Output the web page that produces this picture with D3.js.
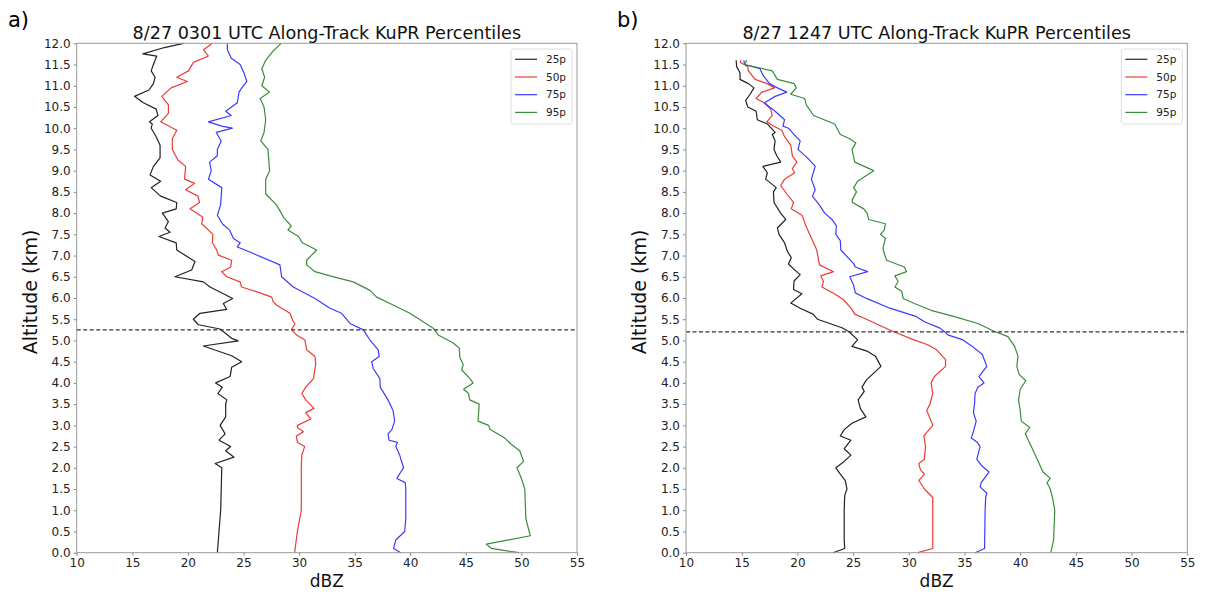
<!DOCTYPE html>
<html>
<head>
<meta charset="utf-8">
<script src="https://cdn.jsdelivr.net/npm/d3@7/dist/d3.min.js"></script>
<style>
  body { margin: 0; background: #fff; }
  text { font-family: "DejaVu Sans", sans-serif; }
</style>
</head>
<body>
<div id="container"></div>
<script>
/* DATA: [altitude km, dBZ] */
const a25 = [[0.0,22.65],[0.5,22.8],[1.0,22.95],[1.5,23.0],[2.0,23.05],[2.1,22.45],[2.25,24.15],[2.4,23.4],[2.5,23.85],[2.65,22.8],[2.8,23.35],[3.0,22.9],[3.2,23.4],[3.5,23.4],[3.6,23.5],[3.75,22.7],[3.9,23.1],[4.0,22.5],[4.15,23.8],[4.37,23.94],[4.5,24.84],[4.64,23.94],[4.87,21.39],[4.99,24.53],[5.05,23.94],[5.27,22.89],[5.37,20.94],[5.5,20.49],[5.64,21.09],[5.73,23.49],[5.87,23.19],[5.99,24.03],[6.26,21.99],[6.38,21.39],[6.5,18.84],[6.66,20.34],[6.86,20.64],[7.13,19.0],[7.3,18.95],[7.45,17.4],[7.55,18.4],[7.65,17.95],[7.8,18.25],[8.0,17.7],[8.1,18.95],[8.25,19.0],[8.4,17.55],[8.6,16.7],[8.75,17.55],[8.9,16.6],[9.1,16.9],[9.3,17.5],[9.6,17.5],[9.8,17.15],[10.0,16.7],[10.1,16.8],[10.15,16.55],[10.3,17.3],[10.45,17.15],[10.6,16.0],[10.75,15.2],[10.9,16.5],[11.05,16.9],[11.2,17.05],[11.35,16.7],[11.5,16.9],[11.7,17.2],[11.75,15.95],[11.9,17.9],[12.0,19.6]]
const a50 = [[0.0,29.6],[0.3,29.75],[0.5,29.85],[1.0,30.2],[1.5,30.2],[2.0,30.2],[2.3,30.25],[2.5,30.5],[2.6,29.85],[2.75,29.75],[2.85,30.4],[2.95,29.85],[3.0,29.85],[3.15,31.05],[3.3,30.6],[3.4,31.35],[3.6,30.6],[3.75,30.25],[3.9,30.6],[4.1,31.3],[4.46,31.5],[4.62,31.43],[4.78,30.68],[5.01,30.53],[5.13,29.78],[5.25,29.33],[5.4,29.63],[5.48,29.42],[5.64,29.18],[5.83,27.99],[5.91,27.68],[6.02,27.54],[6.12,26.49],[6.26,24.84],[6.38,24.69],[6.5,23.49],[6.62,23.04],[6.73,23.85],[6.89,23.94],[7.01,22.74],[7.13,22.59],[7.3,22.2],[7.5,22.25],[7.6,21.85],[7.75,21.25],[7.9,21.35],[8.1,20.2],[8.25,21.05],[8.4,20.9],[8.55,19.8],[8.7,20.6],[8.8,19.7],[9.1,19.8],[9.25,19.1],[9.5,18.6],[9.75,18.6],[9.95,19.0],[10.15,17.55],[10.35,18.25],[10.55,18.25],[10.75,17.65],[10.95,18.5],[11.1,19.95],[11.2,19.0],[11.35,20.05],[11.55,20.5],[11.7,21.85],[11.85,21.4],[12.0,22.2]]
const a75 = [[0.0,39.15],[0.1,38.5],[0.3,38.7],[0.5,39.5],[0.8,39.6],[1.5,39.6],[1.65,39.55],[1.75,38.8],[1.9,39.15],[2.0,39.4],[2.3,39.05],[2.5,38.7],[2.6,38.85],[2.65,38.1],[2.8,38.0],[2.9,38.35],[3.1,38.6],[3.35,38.45],[3.6,38.0],[3.9,37.3],[4.1,37.27],[4.34,36.67],[4.5,36.53],[4.62,37.21],[4.78,37.12],[5.01,36.38],[5.25,35.78],[5.4,34.58],[5.64,33.83],[5.76,32.78],[5.99,31.43],[6.26,29.48],[6.5,28.43],[6.78,28.28],[7.13,25.14],[7.2,24.45],[7.3,24.7],[7.4,24.1],[7.6,23.75],[7.75,23.1],[7.95,22.65],[8.2,22.95],[8.6,23.05],[8.8,21.85],[9.0,22.1],[9.2,21.95],[9.35,22.65],[9.5,22.65],[9.7,23.0],[9.9,22.55],[10.0,24.0],[10.05,23.05],[10.15,21.85],[10.3,23.9],[10.4,23.4],[10.6,24.45],[10.85,24.6],[10.95,24.85],[11.1,25.3],[11.3,25.05],[11.5,24.7],[11.65,23.9],[11.85,23.55],[12.0,23.55]]
const a95 = [[0.0,49.8],[0.1,47.3],[0.2,46.85],[0.4,50.8],[0.5,50.7],[0.8,50.4],[1.5,50.3],[1.75,50.0],[2.0,49.6],[2.15,50.2],[2.4,49.85],[2.55,49.1],[2.7,48.5],[2.9,47.2],[3.0,47.05],[3.1,46.1],[3.5,46.2],[3.6,45.35],[3.75,45.25],[3.85,44.8],[4.0,45.65],[4.1,45.37],[4.31,44.62],[4.43,44.77],[4.59,44.47],[4.82,44.41],[4.94,43.87],[5.13,42.52],[5.29,42.07],[5.64,39.97],[5.87,38.18],[6.02,36.98],[6.18,36.38],[6.38,34.87],[6.52,32.78],[6.62,31.43],[6.78,30.68],[6.89,30.68],[7.01,31.13],[7.13,31.58],[7.3,30.3],[7.45,29.95],[7.6,29.0],[7.7,29.3],[7.9,28.6],[8.0,28.4],[8.2,27.95],[8.45,27.0],[8.8,27.0],[9.0,27.35],[9.5,27.2],[9.7,26.55],[9.9,26.85],[10.2,27.0],[10.5,26.85],[10.7,26.5],[10.85,27.35],[11.0,26.65],[11.2,26.9],[11.4,26.65],[11.6,27.0],[11.8,27.6],[11.95,28.2],[12.0,28.4]]

const b25 = [[0.0,23.2],[0.1,24.25],[0.3,24.2],[1.0,24.2],[1.35,24.25],[1.5,24.45],[1.7,24.3],[1.85,23.85],[2.0,23.45],[2.15,24.2],[2.3,24.8],[2.45,24.2],[2.5,24.35],[2.65,24.8],[2.75,23.85],[2.9,24.2],[3.05,24.9],[3.2,26.15],[3.4,25.65],[3.6,25.45],[3.8,26.0],[3.9,25.8],[4.07,26.2],[4.39,27.5],[4.63,27.0],[4.75,26.25],[4.86,24.9],[5.02,25.4],[5.21,24.6],[5.3,24.0],[5.5,21.8],[5.62,21.4],[5.76,20.25],[5.88,19.4],[6.1,20.4],[6.2,19.65],[6.4,19.7],[6.55,20.25],[6.65,19.8],[6.8,19.2],[6.95,19.45],[7.1,19.1],[7.3,18.85],[7.5,18.35],[7.65,18.2],[7.85,18.95],[8.0,18.5],[8.25,17.9],[8.5,17.85],[8.6,18.1],[8.8,17.15],[8.95,17.3],[9.1,16.9],[9.2,18.5],[9.35,18.15],[9.5,17.9],[9.7,18.0],[9.85,17.75],[9.9,18.0],[10.1,17.3],[10.2,16.4],[10.4,16.3],[10.5,15.55],[10.65,15.35],[10.8,15.75],[10.95,16.1],[11.05,15.6],[11.15,14.85],[11.3,14.85],[11.45,14.55],[11.6,14.5]]
const b50 = [[0.0,30.8],[0.1,32.15],[1.0,32.15],[1.3,32.15],[1.5,31.4],[1.7,30.9],[1.85,31.4],[1.95,31.05],[2.1,30.9],[2.2,31.4],[2.5,31.5],[2.75,31.35],[3.0,32.15],[3.2,31.85],[3.35,31.6],[3.5,31.9],[3.75,32.15],[4.0,32.0],[4.15,32.3],[4.39,33.3],[4.55,33.3],[4.78,32.5],[4.9,31.7],[5.02,30.4],[5.21,28.6],[5.34,27.5],[5.5,26.2],[5.62,25.15],[5.75,24.85],[5.97,24.1],[6.12,23.2],[6.26,22.2],[6.39,22.34],[6.52,22.1],[6.62,23.24],[6.78,21.98],[7.13,21.74],[7.3,21.45],[7.5,21.1],[7.7,20.75],[7.9,20.5],[7.95,20.4],[8.1,19.45],[8.25,19.65],[8.45,19.05],[8.65,18.5],[8.8,18.85],[8.95,19.75],[9.05,19.55],[9.2,19.95],[9.35,19.55],[9.6,19.4],[9.8,18.85],[9.95,18.6],[10.05,17.85],[10.15,17.25],[10.3,17.75],[10.45,17.6],[10.6,17.0],[10.7,16.3],[10.85,16.8],[10.95,17.95],[11.05,17.3],[11.15,16.2],[11.35,15.6],[11.45,15.55],[11.55,14.9],[11.6,14.9]]
const b75 = [[0.0,35.95],[0.1,36.8],[1.0,36.85],[1.3,36.9],[1.4,37.0],[1.55,36.4],[1.65,36.5],[1.9,37.2],[2.05,36.55],[2.2,36.1],[2.5,36.4],[2.6,36.15],[2.7,35.6],[2.85,35.8],[3.1,36.05],[3.3,35.8],[3.5,35.9],[3.75,35.95],[3.9,36.2],[4.0,36.75],[4.15,36.3],[4.39,37.0],[4.67,36.6],[4.86,35.7],[5.02,34.8],[5.13,33.5],[5.21,33.2],[5.29,32.8],[5.44,31.4],[5.56,30.7],[5.66,29.5],[5.76,28.3],[5.99,26.2],[6.12,25.2],[6.3,25.05],[6.5,24.7],[6.62,26.3],[6.73,25.2],[6.81,25.05],[7.13,23.9],[7.35,23.85],[7.5,23.45],[7.7,23.5],[7.85,23.1],[8.0,22.45],[8.2,21.95],[8.4,21.35],[8.55,21.6],[8.8,21.25],[9.1,21.6],[9.3,20.9],[9.5,20.05],[9.7,20.25],[9.85,19.7],[10.0,19.2],[10.05,18.7],[10.2,18.85],[10.4,18.0],[10.5,17.5],[10.6,17.05],[10.75,18.0],[10.85,19.05],[10.95,18.2],[11.05,17.5],[11.25,16.9],[11.4,16.65],[11.5,15.25],[11.6,15.2]]
const b95 = [[0.0,42.75],[0.3,43.0],[1.0,43.1],[1.3,42.9],[1.5,42.7],[1.65,42.4],[1.75,42.7],[1.9,42.05],[2.1,41.7],[2.5,41.0],[2.8,40.45],[2.95,40.85],[3.1,40.1],[3.35,40.0],[3.6,39.85],[3.85,40.0],[4.05,40.5],[4.2,39.9],[4.39,39.7],[4.63,39.8],[4.86,39.5],[5.09,38.9],[5.21,37.7],[5.4,36.2],[5.56,34.1],[5.71,32.0],[5.87,30.5],[5.99,29.5],[6.16,29.35],[6.26,28.75],[6.39,29.05],[6.52,28.75],[6.62,29.8],[6.73,29.6],[6.89,28.0],[7.13,27.7],[7.2,27.7],[7.4,27.9],[7.5,27.45],[7.6,27.8],[7.75,27.9],[7.85,26.4],[8.0,26.25],[8.1,25.95],[8.25,24.95],[8.3,24.9],[8.5,25.3],[8.6,25.05],[8.75,25.4],[9.0,26.85],[9.2,25.15],[9.5,24.9],[9.65,25.25],[9.75,24.7],[9.85,23.85],[10.1,23.35],[10.2,22.4],[10.3,21.45],[10.55,20.8],[10.7,20.65],[10.8,19.4],[10.95,19.9],[11.05,19.7],[11.15,18.2],[11.35,17.75],[11.5,15.25],[11.6,15.45]]

const seriesNames = ["25p", "50p", "75p", "95p"]
const meltLevels = [5.25, 5.2]
const xTicks = [10, 15, 20, 25, 30, 35, 40, 45, 50, 55]
const yTicks = [0, 0.5, 1, 1.5, 2, 2.5, 3, 3.5, 4, 4.5, 5, 5.5, 6, 6.5, 7, 7.5, 8, 8.5, 9, 9.5, 10, 10.5, 11, 11.5, 12]

/* CONSTANTS AND GLOBALS */
const width = 1207, height = 594
const plotTop = 43.3, plotBottom = 552.7
const colors = ["#222222", "#ee3a35", "#3b3bff", "#3a8c3a"]

const panels = [
  { tag: "a)", tagX: 8, title: "8/27 0301 UTC Along-Track KuPR Percentiles",
    series: [a25, a50, a75, a95], melt: meltLevels[0], left: 76.7, right: 577 },
  { tag: "b)", tagX: 617, title: "8/27 1247 UTC Along-Track KuPR Percentiles",
    series: [b25, b50, b75, b95], melt: meltLevels[1], left: 686, right: 1187.3 }
]

// CREATE SVG ELEMENT
const svg = d3.select("#container")
  .append("svg")
  .attr("width", width)
  .attr("height", height)
  .style("background-color", "white")

panels.forEach(p => {
  // SCALES
  const xScale = d3.scaleLinear()
    .domain([10, 55])
    .range([p.left, p.right])

  const yScale = d3.scaleLinear()
    .domain([0, 12])
    .range([plotBottom, plotTop])

  const g = svg.append("g")

  // AXES
  const xAxis = d3.axisBottom(xScale)
    .tickValues(xTicks)
    .tickFormat(d3.format("d"))
    .tickSize(3)
    .tickPadding(3)
  g.append("g")
    .attr("transform", `translate(0, ${plotBottom})`)
    .call(xAxis)

  const yAxis = d3.axisLeft(yScale)
    .tickValues(yTicks)
    .tickFormat(d3.format(".1f"))
    .tickSize(3)
    .tickPadding(3)
  g.append("g")
    .attr("transform", `translate(${p.left}, 0)`)
    .call(yAxis)

  g.selectAll(".domain").remove()
  g.selectAll(".tick line").attr("stroke", "#888")
  g.selectAll(".tick text")
    .style("font-size", "12px")
    .attr("fill", "#222")

  // LINES
  const lineGen = d3.line()
    .x(d => xScale(d[1]))
    .y(d => yScale(d[0]))

  p.series.forEach((s, i) => {
    g.append("path")
      .datum(s)
      .attr("d", lineGen)
      .attr("fill", "none")
      .attr("stroke", colors[i])
      .attr("stroke-width", 1.2)
      .attr("stroke-linejoin", "round")
  })

  // MELTING LEVEL
  g.append("line")
    .attr("x1", xScale(10))
    .attr("x2", xScale(55))
    .attr("y1", yScale(p.melt))
    .attr("y2", yScale(p.melt))
    .attr("stroke", "#333")
    .attr("stroke-width", 1.2)
    .attr("stroke-dasharray", "4,2.5")

  // FRAME
  g.append("rect")
    .attr("x", p.left)
    .attr("y", plotTop)
    .attr("width", p.right - p.left)
    .attr("height", plotBottom - plotTop)
    .attr("fill", "none")
    .attr("stroke", "#999")
    .attr("stroke-width", 1)

  // LEGEND
  const lg = g.append("g")
    .attr("transform", `translate(${p.right - 66}, ${plotTop + 5.7})`)
  lg.append("rect")
    .attr("width", 61)
    .attr("height", 75)
    .attr("rx", 2.5)
    .attr("fill", "white")
    .attr("fill-opacity", 0.8)
    .attr("stroke", "#ddd")
  seriesNames.forEach((name, i) => {
    const yy = 10.3 + i * 17.7
    lg.append("line")
      .attr("x1", 4).attr("x2", 26)
      .attr("y1", yy).attr("y2", yy)
      .attr("stroke", colors[i])
      .attr("stroke-width", 1.2)
    lg.append("text")
      .attr("x", 35)
      .attr("y", yy)
      .attr("dy", "0.36em")
      .style("font-size", "10.5px")
      .attr("fill", "#222")
      .text(name)
  })

  // TITLE AND LABELS
  g.append("text")
    .attr("text-anchor", "middle")
    .attr("x", (p.left + p.right) / 2)
    .attr("y", 39)
    .style("font-size", "17.6px")
    .attr("fill", "#111")
    .text(p.title)

  g.append("text")
    .attr("text-anchor", "middle")
    .attr("x", (p.left + p.right) / 2)
    .attr("y", 586.5)
    .style("font-size", "17px")
    .attr("fill", "#111")
    .text("dBZ")

  g.append("text")
    .attr("text-anchor", "middle")
    .attr("transform", `translate(${p.left - 40}, 292) rotate(-90)`)
    .style("font-size", "19px")
    .attr("fill", "#111")
    .text("Altitude (km)")

  svg.append("text")
    .attr("x", p.tagX)
    .attr("y", 26.5)
    .style("font-size", "21px")
    .attr("fill", "#000")
    .text(p.tag)
})
</script>
</body>
</html>
